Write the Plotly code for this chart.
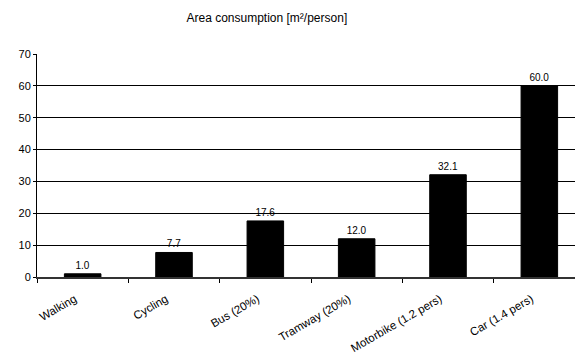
import plotly.graph_objects as go

categories = ["Walking", "Cycling", "Bus (20%)", "Tramway (20%)", "Motorbike (1.2 pers)", "Car (1.4 pers)"]
values = [1.0, 7.7, 17.6, 12.0, 32.1, 60.0]
title = "Area consumption [m²/person]"

fig = go.Figure(go.Bar(
    x=categories, y=values,
    marker=dict(color="black", line=dict(color="black", width=1)),
    text=[f"{v:.1f}" for v in values], textposition="outside",
    textfont=dict(size=10, color="black", family="Liberation Sans, Arial"),
    cliponaxis=False,
))
fig.update_layout(
    width=583, height=354,
    margin=dict(l=29, r=6, t=46, b=85, autoexpand=False),
    paper_bgcolor="white", plot_bgcolor="white",
    font=dict(family="Liberation Sans, Arial", size=11, color="black"),
    title=dict(text=title, x=0.444, xanchor="center", y=0.972, yanchor="middle",
               font=dict(size=12, color="black")),
    bargap=0.6, showlegend=False,
)
fig.update_xaxes(tickangle=-30, ticks="outside", tickson="boundaries", ticklen=4,
                 tickcolor="black", showline=True, linecolor="#333", linewidth=2,
                 tickfont=dict(size=11.5), automargin=False, ticklabelstandoff=9,
                 ticklabelshift=-8)
fig.update_yaxes(range=[0, 70], dtick=10, ticks="outside", ticklen=3, tickcolor="black",
                 showline=True, linecolor="black", linewidth=1,
                 showgrid=True, gridcolor="black", gridwidth=1,
                 zeroline=False, tickfont=dict(size=11), automargin=False)
fig.write_html("out.html")
